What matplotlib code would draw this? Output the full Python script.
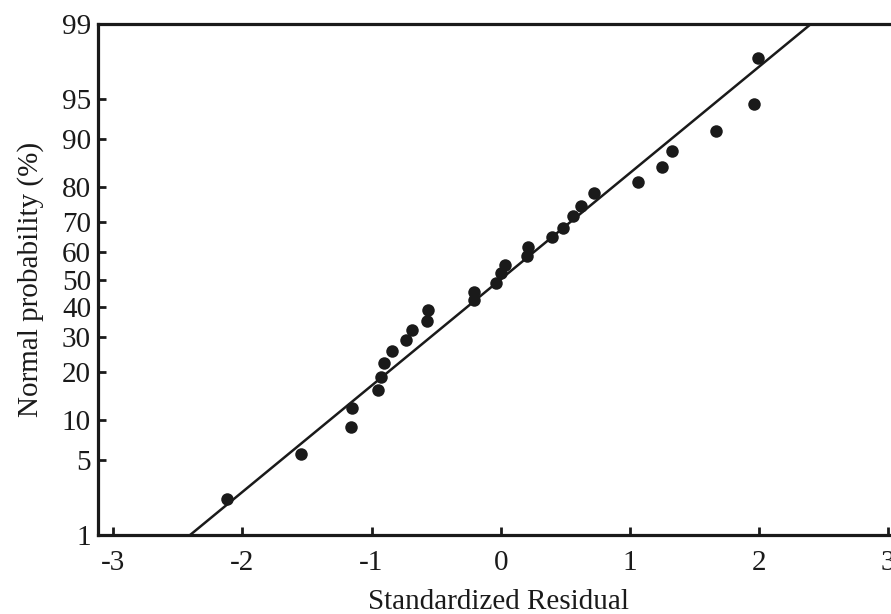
import matplotlib
matplotlib.use("Agg")
import matplotlib.pyplot as plt
from statistics import NormalDist

# Data (standardized residual, normal probability %)
residuals = [-2.12, -1.55, -1.16, -1.15, -0.95, -0.93, -0.90, -0.84, -0.73, -0.69,
             -0.57, -0.56, -0.21, -0.21, -0.04, 0.00, 0.03, 0.20, 0.21, 0.40,
             0.48, 0.56, 0.62, 0.72, 1.06, 1.25, 1.33, 1.67, 1.96, 1.99]
probabilities = [2.3, 5.6, 9.0, 12.1, 15.7, 18.7, 22.4, 25.8, 29.1, 32.3,
                 35.3, 39.1, 42.6, 45.5, 48.7, 52.4, 55.3, 58.5, 61.6, 65.1,
                 68.0, 71.8, 74.8, 78.4, 81.3, 84.7, 87.9, 91.2, 94.5, 97.8]

# Reference line (normal fit) end points
fit_x = [-2.405, 2.402]
fit_p = [1, 99]

ytick_values = [1, 5, 10, 20, 30, 40, 50, 60, 70, 80, 90, 95, 99]
xtick_values = [-3, -2, -1, 0, 1, 2, 3]

nd = NormalDist()
def probit(p):
    return nd.inv_cdf(p / 100.0)

plt.rcParams['font.family'] = ['Liberation Serif', 'DejaVu Serif']

W, H = 891, 614
fig = plt.figure(figsize=(W / 100, H / 100), dpi=100)
left_px, top_px, bottom_px, right_px = 98, 24, 535, 903.4
ax = fig.add_axes([left_px / W, (H - bottom_px) / H,
                   (right_px - left_px) / W, (bottom_px - top_px) / H])

ink = '#1a1a1a'
ax.plot(fit_x, [probit(p) for p in fit_p], color=ink, lw=1.8, zorder=2)
ax.plot(residuals, [probit(p) for p in probabilities], 'o', color=ink,
        markersize=9, markeredgewidth=0, zorder=3)

ax.set_xlim(-3.118, 3.118)
ax.set_ylim(probit(1), probit(99))
ax.set_xticks(xtick_values)
ax.set_xticklabels([str(v) for v in xtick_values])
ax.set_yticks([probit(v) for v in ytick_values])
ax.set_yticklabels([str(v) for v in ytick_values])

for s in ax.spines.values():
    s.set_linewidth(2.3)
    s.set_color(ink)

fs = 21
ax.tick_params(axis='both', direction='in', length=6, width=2.0, colors=ink,
               labelsize=fs, labelcolor=ink)
ax.tick_params(axis='x', pad=11)
ax.tick_params(axis='y', pad=5)

ax.set_xlabel('Standardized Residual', fontsize=fs, color=ink)
ax.set_ylabel('Normal probability (%)', fontsize=fs, color=ink)
ax.xaxis.set_label_coords((499 - left_px) / (right_px - left_px),
                          -(589 - bottom_px) / (bottom_px - top_px))
ax.yaxis.set_label_coords(-(98 - 44) / (right_px - left_px), 0.5)

fig.savefig('out.png', dpi=100)
